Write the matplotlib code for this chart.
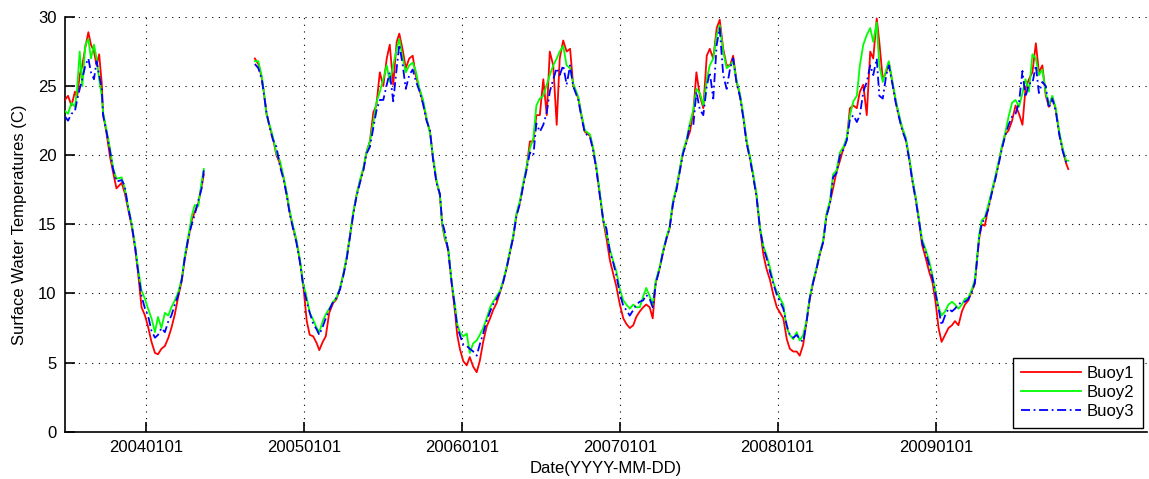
import numpy as np
import pandas as pd
import matplotlib
matplotlib.use("Agg")
import matplotlib.pyplot as plt

plt.rcParams["font.family"] = ["Liberation Sans", "DejaVu Sans"]

# Sampled surface water temperatures (deg C); a NaN row marks the data gap in mid-2004
dates = [
    "2003-06-28", "2003-07-05", "2003-07-13", "2003-07-21", "2003-07-26", "2003-08-01", "2003-08-07",
    "2003-08-14", "2003-08-21", "2003-08-27", "2003-09-03", "2003-09-09", "2003-09-15", "2003-09-21",
    "2003-09-24", "2003-10-02", "2003-10-10", "2003-10-17", "2003-10-25", "2003-11-06", "2003-11-13",
    "2003-11-21", "2003-11-29", "2003-12-07", "2003-12-14", "2003-12-22", "2003-12-30", "2004-01-06",
    "2004-01-14", "2004-01-22", "2004-01-29", "2004-02-06", "2004-02-14", "2004-02-22", "2004-02-29",
    "2004-03-08", "2004-03-16", "2004-03-24", "2004-03-31", "2004-04-08", "2004-04-16", "2004-04-23",
    "2004-05-01", "2004-05-09", "2004-05-14",
    "2004-07-01",
    "2004-09-09", "2004-09-17", "2004-09-25", "2004-09-30", "2004-10-06", "2004-10-14", "2004-10-21",
    "2004-10-29", "2004-11-06", "2004-11-14", "2004-11-21", "2004-11-29", "2004-12-07", "2004-12-14",
    "2004-12-22", "2004-12-30", "2005-01-07", "2005-01-14", "2005-01-22", "2005-01-30", "2005-02-05",
    "2005-02-13", "2005-02-20", "2005-02-28", "2005-03-09", "2005-03-17", "2005-03-25", "2005-04-01",
    "2005-04-09", "2005-04-17", "2005-04-24", "2005-05-02", "2005-05-10", "2005-05-18", "2005-05-25",
    "2005-06-02", "2005-06-10", "2005-06-17", "2005-06-25", "2005-07-03", "2005-07-11", "2005-07-18",
    "2005-07-26", "2005-08-03", "2005-08-09", "2005-08-17", "2005-08-24", "2005-09-01", "2005-09-09",
    "2005-09-16", "2005-09-24", "2005-10-03", "2005-10-11", "2005-10-19", "2005-10-26", "2005-11-03",
    "2005-11-11", "2005-11-16", "2005-11-22", "2005-11-30", "2005-12-08", "2005-12-16", "2005-12-21",
    "2005-12-27", "2006-01-04", "2006-01-12", "2006-01-19", "2006-01-27", "2006-02-04", "2006-02-11",
    "2006-02-19", "2006-02-27", "2006-03-07", "2006-03-14", "2006-03-22", "2006-03-30", "2006-04-06",
    "2006-04-14", "2006-04-22", "2006-04-29", "2006-05-07", "2006-05-15", "2006-05-22", "2006-05-30",
    "2006-06-07", "2006-06-15", "2006-06-22", "2006-06-30", "2006-07-08", "2006-07-16", "2006-07-23",
    "2006-07-31", "2006-08-08", "2006-08-15", "2006-08-23", "2006-08-31", "2006-09-08", "2006-09-15",
    "2006-09-27", "2006-10-04", "2006-10-12", "2006-10-24", "2006-10-31", "2006-11-08", "2006-11-16",
    "2006-11-24", "2006-12-01", "2006-12-09", "2006-12-17", "2006-12-24", "2007-01-01", "2007-01-09",
    "2007-01-16", "2007-01-24", "2007-02-01", "2007-02-08", "2007-02-16", "2007-02-24", "2007-03-03",
    "2007-03-11", "2007-03-18", "2007-03-25", "2007-04-03", "2007-04-11", "2007-04-19", "2007-04-26",
    "2007-05-04", "2007-05-12", "2007-05-20", "2007-05-27", "2007-06-04", "2007-06-12", "2007-06-20",
    "2007-06-27", "2007-07-05", "2007-07-13", "2007-07-21", "2007-07-28", "2007-08-05", "2007-08-13",
    "2007-08-20", "2007-08-28", "2007-09-05", "2007-09-13", "2007-09-20", "2007-09-28", "2007-10-06",
    "2007-10-13", "2007-10-21", "2007-10-29", "2007-11-05", "2007-11-13", "2007-11-21", "2007-11-29",
    "2007-12-06", "2007-12-14", "2007-12-22", "2007-12-30", "2008-01-14", "2008-01-22", "2008-01-29",
    "2008-02-06", "2008-02-14", "2008-02-21", "2008-02-29", "2008-03-08", "2008-03-15", "2008-03-23",
    "2008-03-31", "2008-04-07", "2008-04-15", "2008-04-23", "2008-05-01", "2008-05-08", "2008-05-16",
    "2008-05-24", "2008-06-01", "2008-06-09", "2008-06-16", "2008-06-24", "2008-07-02", "2008-07-09",
    "2008-07-17", "2008-07-25", "2008-08-02", "2008-08-09", "2008-08-17", "2008-08-23", "2008-08-31",
    "2008-09-08", "2008-09-14", "2008-09-22", "2008-09-30", "2008-10-07", "2008-10-15", "2008-10-23",
    "2008-10-31", "2008-11-07", "2008-11-15", "2008-11-23", "2008-11-30", "2008-12-08", "2008-12-16",
    "2008-12-24", "2008-12-31", "2009-01-07", "2009-01-14", "2009-01-22", "2009-01-30", "2009-02-07",
    "2009-02-14", "2009-02-22", "2009-03-02", "2009-03-09", "2009-03-17", "2009-03-25", "2009-04-01",
    "2009-04-06", "2009-04-11", "2009-04-17", "2009-04-24", "2009-05-02", "2009-05-09", "2009-05-17",
    "2009-05-25", "2009-06-02", "2009-06-10", "2009-06-18", "2009-06-26", "2009-07-04", "2009-07-12",
    "2009-07-20", "2009-07-27", "2009-08-04", "2009-08-12", "2009-08-20", "2009-08-27", "2009-09-04",
    "2009-09-12", "2009-09-19", "2009-09-27", "2009-10-05", "2009-10-13", "2009-10-21", "2009-10-29",
    "2009-11-03",
]

nan = np.nan

buoy1 = [
    24.0, 24.3, 23.6, 24.6, 24.2, 25.8, 26.5, 27.8, 28.9, 28.0, 27.5, 26.5, 27.3, 25.2,
    23.0, 21.6, 19.9, 18.8, 17.6, 18.0, 17.3, 16.1, 14.9, 13.3, 11.5, 9.0, 8.4, 7.6,
    6.5, 5.7, 5.6, 6.0, 6.2, 6.8, 7.5, 8.5, 9.8, 10.9, 12.5, 13.9, 15.3, 15.9,
    16.5, 17.8, 18.6,
    nan,
    27.0, 26.6, 25.6, 24.5, 23.0, 22.0, 21.2, 20.0, 19.4, 18.4, 17.3, 15.8, 14.7, 13.8,
    12.4, 10.6, 8.0, 7.0, 6.9, 6.4, 5.9, 6.5, 6.9, 8.6, 9.3, 9.6, 10.4, 11.3,
    12.5, 14.2, 15.7, 17.1, 18.1, 19.0, 20.2, 21.0, 23.1, 23.6, 26.0, 25.0, 27.0, 28.0,
    25.1, 28.2, 28.8, 27.6, 26.3, 27.0, 27.2, 25.8, 24.8, 23.8, 22.6, 21.7, 19.8, 18.1,
    17.1, 15.0, 14.0, 13.2, 10.8, 8.6, 7.0, 6.0, 5.1, 4.8, 5.4, 4.7, 4.3, 5.1,
    6.5, 7.6, 8.2, 8.8, 9.3, 10.1, 10.8, 11.8, 13.0, 14.0, 15.7, 16.6, 17.8, 19.0,
    21.0, 21.0, 22.9, 22.9, 25.5, 22.9, 27.5, 26.5, 22.2, 27.0, 28.3, 27.5, 27.7, 25.1,
    24.1, 22.9, 21.7, 21.4, 20.5, 19.0, 17.1, 15.2, 14.0, 12.4, 11.4, 10.5, 9.2, 8.2,
    7.8, 7.5, 7.7, 8.3, 8.7, 9.0, 9.2, 9.0, 8.2, 10.8, 11.8, 13.0, 14.0, 14.7,
    16.6, 17.6, 19.0, 20.2, 21.0, 21.7, 23.1, 26.0, 24.3, 23.4, 27.2, 27.7, 27.0, 29.2,
    29.8, 27.7, 26.5, 26.5, 27.2, 25.3, 24.3, 22.9, 21.0, 19.8, 18.6, 17.1, 14.7, 12.8,
    11.8, 11.0, 9.9, 9.0, 8.2, 6.7, 6.0, 5.8, 5.8, 5.5, 6.3, 8.0, 9.6, 10.8,
    11.8, 12.8, 13.7, 15.7, 16.6, 17.6, 18.8, 19.6, 20.5, 21.2, 23.4, 23.6, 23.4, 24.6,
    25.1, 22.9, 27.5, 27.0, 29.9, 28.2, 25.5, 26.0, 26.7, 25.3, 23.9, 22.9, 21.9, 21.2,
    19.8, 18.3, 16.9, 15.2, 13.5, 12.6, 11.6, 10.8, 9.4, 7.5, 6.5, 7.0, 7.5, 7.7,
    8.0, 7.7, 8.7, 9.2, 9.5, 10.2, 10.7, 12.5, 14.0, 15.0, 14.9, 16.2, 17.2, 18.2,
    19.3, 20.5, 21.5, 21.8, 22.5, 23.6, 23.0, 22.2, 24.8, 25.5, 26.0, 28.1, 26.0, 26.5,
    24.3, 23.5, 24.2, 23.3, 21.6, 20.4, 19.4, 19.0,
]

buoy2 = [
    23.2, 23.0, 23.8, 23.5, 24.8, 27.5, 25.0, 28.0, 28.4, 27.0, 28.0, 27.0, 25.5, 24.3,
    23.1, 21.8, 20.5, 19.1, 18.3, 18.4, 17.6, 16.3, 15.1, 13.5, 11.8, 10.2, 9.6, 8.9,
    8.2, 7.2, 8.3, 7.5, 8.6, 8.4, 9.0, 9.5, 10.1, 11.1, 12.7, 14.1, 15.6, 16.4,
    16.3, 18.1, 19.0,
    nan,
    26.8, 26.8, 25.7, 24.6, 22.9, 22.1, 21.3, 20.1, 19.6, 18.5, 17.4, 15.9, 14.8, 13.9,
    12.5, 10.7, 9.7, 8.6, 8.1, 7.5, 7.2, 8.0, 8.5, 8.9, 9.4, 9.7, 10.4, 11.3,
    12.6, 14.2, 15.8, 17.1, 18.2, 19.1, 20.2, 21.0, 22.4, 23.8, 24.6, 25.5, 26.5, 25.3,
    26.5, 27.7, 28.4, 27.0, 26.0, 26.5, 26.7, 26.1, 24.9, 24.0, 22.7, 21.6, 19.9, 18.2,
    17.1, 15.1, 14.1, 13.3, 10.9, 9.1, 7.8, 7.2, 6.9, 7.1, 5.7, 6.4, 6.6, 7.0,
    7.5, 8.2, 9.0, 9.4, 9.8, 10.2, 10.9, 11.9, 13.1, 14.1, 15.8, 16.7, 17.9, 19.1,
    20.5, 21.2, 23.6, 24.1, 24.3, 25.1, 25.8, 26.5, 27.0, 27.5, 27.9, 26.5, 26.3, 25.2,
    24.2, 23.0, 21.8, 21.5, 20.6, 19.1, 17.2, 15.3, 14.4, 13.2, 12.3, 11.6, 10.3, 9.5,
    9.2, 8.9, 9.2, 9.0, 9.0, 9.8, 10.4, 9.8, 9.2, 10.9, 11.9, 13.1, 14.1, 14.8,
    16.7, 17.7, 19.1, 20.3, 21.1, 22.3, 23.3, 24.8, 24.5, 23.6, 25.5, 26.5, 27.0, 28.7,
    29.4, 27.5, 26.3, 26.5, 26.8, 25.4, 24.4, 23.0, 21.1, 19.9, 18.7, 17.2, 14.8, 13.4,
    12.8, 11.9, 10.8, 10.1, 9.2, 7.5, 7.0, 6.7, 7.2, 6.6, 7.0, 8.1, 9.7, 10.9,
    11.9, 12.9, 13.8, 15.8, 16.7, 18.6, 18.9, 20.2, 20.6, 21.3, 22.9, 23.9, 24.3, 26.5,
    28.0, 28.7, 29.2, 28.2, 29.6, 26.5, 25.3, 26.2, 26.8, 25.4, 24.0, 23.0, 22.0, 21.3,
    19.9, 18.4, 17.0, 15.3, 13.9, 13.2, 12.4, 11.3, 10.1, 9.0, 8.4, 8.7, 9.2, 9.4,
    9.2, 8.9, 9.2, 9.6, 9.7, 10.3, 11.0, 12.6, 14.3, 15.3, 15.5, 16.4, 17.3, 18.3,
    19.4, 20.6, 21.6, 22.8, 23.8, 24.0, 23.5, 24.5, 25.5, 24.6, 27.3, 27.0, 25.8, 26.2,
    24.5, 23.6, 24.3, 23.4, 21.7, 20.5, 19.6, 19.6,
]

buoy3 = [
    22.8, 22.5, 23.0, 23.2, 24.0, 24.8, 25.5, 26.5, 27.0, 26.0, 25.5, 26.8, 25.8, 24.8,
    22.9, 21.7, 20.3, 19.0, 18.1, 18.2, 17.8, 16.2, 15.0, 13.4, 11.6, 9.8, 8.9, 8.4,
    7.3, 6.8, 7.0, 7.5, 7.2, 8.0, 8.4, 9.2, 9.9, 11.0, 12.6, 14.0, 15.0, 15.7,
    16.7, 17.6, 18.9,
    nan,
    26.6, 26.3, 25.5, 24.4, 23.1, 21.9, 21.1, 20.6, 19.2, 18.3, 17.2, 15.7, 14.6, 13.7,
    12.3, 10.5, 9.4, 8.6, 7.8, 7.4, 7.0, 7.6, 8.2, 8.8, 9.4, 9.7, 10.3, 11.2,
    12.4, 14.1, 15.6, 17.0, 18.0, 18.9, 20.1, 20.6, 22.0, 23.2, 24.0, 24.0, 25.1, 26.0,
    23.9, 26.3, 28.0, 26.5, 24.8, 25.8, 26.2, 25.4, 24.7, 23.7, 22.5, 21.8, 19.7, 18.0,
    17.2, 15.2, 14.5, 13.1, 10.8, 8.9, 7.6, 7.0, 6.3, 6.2, 6.0, 5.8, 5.5, 6.3,
    7.1, 8.0, 8.7, 9.2, 9.6, 10.1, 10.8, 11.8, 13.0, 14.0, 15.6, 16.5, 17.7, 18.9,
    20.2, 20.0, 22.3, 21.7, 22.2, 23.1, 24.6, 25.5, 26.3, 25.8, 26.5, 25.1, 26.5, 25.0,
    24.0, 22.8, 21.6, 21.3, 20.4, 18.9, 17.0, 15.2, 14.7, 13.0, 12.2, 11.3, 10.0, 9.1,
    8.8, 8.4, 8.8, 9.2, 9.4, 9.5, 9.9, 9.6, 9.0, 10.7, 11.8, 13.0, 14.0, 14.7,
    16.5, 17.5, 18.9, 20.1, 20.9, 22.2, 22.2, 24.6, 23.3, 22.9, 25.0, 26.0, 24.1, 28.0,
    29.2, 25.8, 24.8, 26.3, 27.0, 25.2, 24.2, 22.8, 20.9, 19.7, 18.5, 17.0, 14.7, 13.3,
    12.6, 11.6, 10.7, 9.9, 8.9, 7.7, 7.0, 6.8, 7.0, 6.7, 6.5, 8.0, 9.6, 10.8,
    11.8, 12.8, 13.7, 15.6, 16.5, 18.4, 18.7, 20.0, 20.4, 21.1, 22.6, 22.9, 22.4, 22.9,
    24.6, 25.3, 26.5, 25.8, 27.0, 24.3, 24.1, 25.8, 26.5, 25.2, 23.8, 22.8, 21.8, 21.1,
    19.7, 18.2, 16.8, 15.2, 13.7, 13.0, 12.1, 11.1, 10.0, 8.9, 7.7, 8.4, 8.9, 8.7,
    8.9, 9.2, 9.4, 9.4, 9.6, 10.1, 10.8, 12.4, 14.1, 15.1, 15.4, 16.1, 17.1, 18.1,
    19.2, 20.4, 21.4, 22.2, 22.8, 23.0, 23.8, 26.1, 24.2, 25.2, 25.2, 26.5, 24.5, 25.3,
    25.0, 23.4, 24.1, 23.2, 21.5, 20.3, 19.5, 19.3,
]

tick_dates = ["2004-01-01", "2005-01-01", "2006-01-01", "2007-01-01", "2008-01-01", "2009-01-01"]
tick_labels = ["20040101", "20050101", "20060101", "20070101", "20080101", "20090101"]

t = pd.to_datetime(dates)

fig = plt.figure(figsize=(11.49, 4.79), dpi=100)
ax = fig.add_axes([65 / 1149, 47.3 / 479, (1147 - 65) / 1149, (431.7 - 17.0) / 479])

ax.plot(t, buoy1, color=(1, 0, 0), lw=1.3, label="Buoy1", zorder=3)
ax.plot(t, buoy2, color=(0, 1, 0), lw=1.3, label="Buoy2", zorder=4)
ax.plot(t, buoy3, color=(0, 0, 1), lw=1.3, linestyle=(0, (5, 2, 1, 2)), label="Buoy3", zorder=5)

ax.set_xlim(pd.Timestamp("2003-06-28"), pd.Timestamp("2010-05-04"))
ax.set_ylim(0, 30)
ax.set_yticks(range(0, 31, 5))
ax.set_xticks(pd.to_datetime(tick_dates), tick_labels)

ax.grid(True, color="black", linestyle=(0, (1, 5)), linewidth=0.8)
ax.set_axisbelow(True)
for side in ("top", "right"):
    ax.spines[side].set_visible(False)
for side in ("left", "bottom"):
    ax.spines[side].set_linewidth(1.2)
ax.tick_params(direction="in", length=7, width=1.2, labelsize=12, pad=6)

ax.set_xlabel("Date(YYYY-MM-DD)", fontsize=12, labelpad=4)
ax.set_ylabel("Surface Water Temperatures (C)", fontsize=12, labelpad=8)

leg = ax.legend(loc="lower right", bbox_to_anchor=(1.0, 0.0), borderaxespad=0.25,
                fontsize=12, handlelength=3.6, handletextpad=0.35, labelspacing=0.25,
                borderpad=0.5, fancybox=False, framealpha=1, edgecolor="black")
leg.get_frame().set_linewidth(1.0)

fig.savefig("out.png", dpi=100, facecolor="white")
